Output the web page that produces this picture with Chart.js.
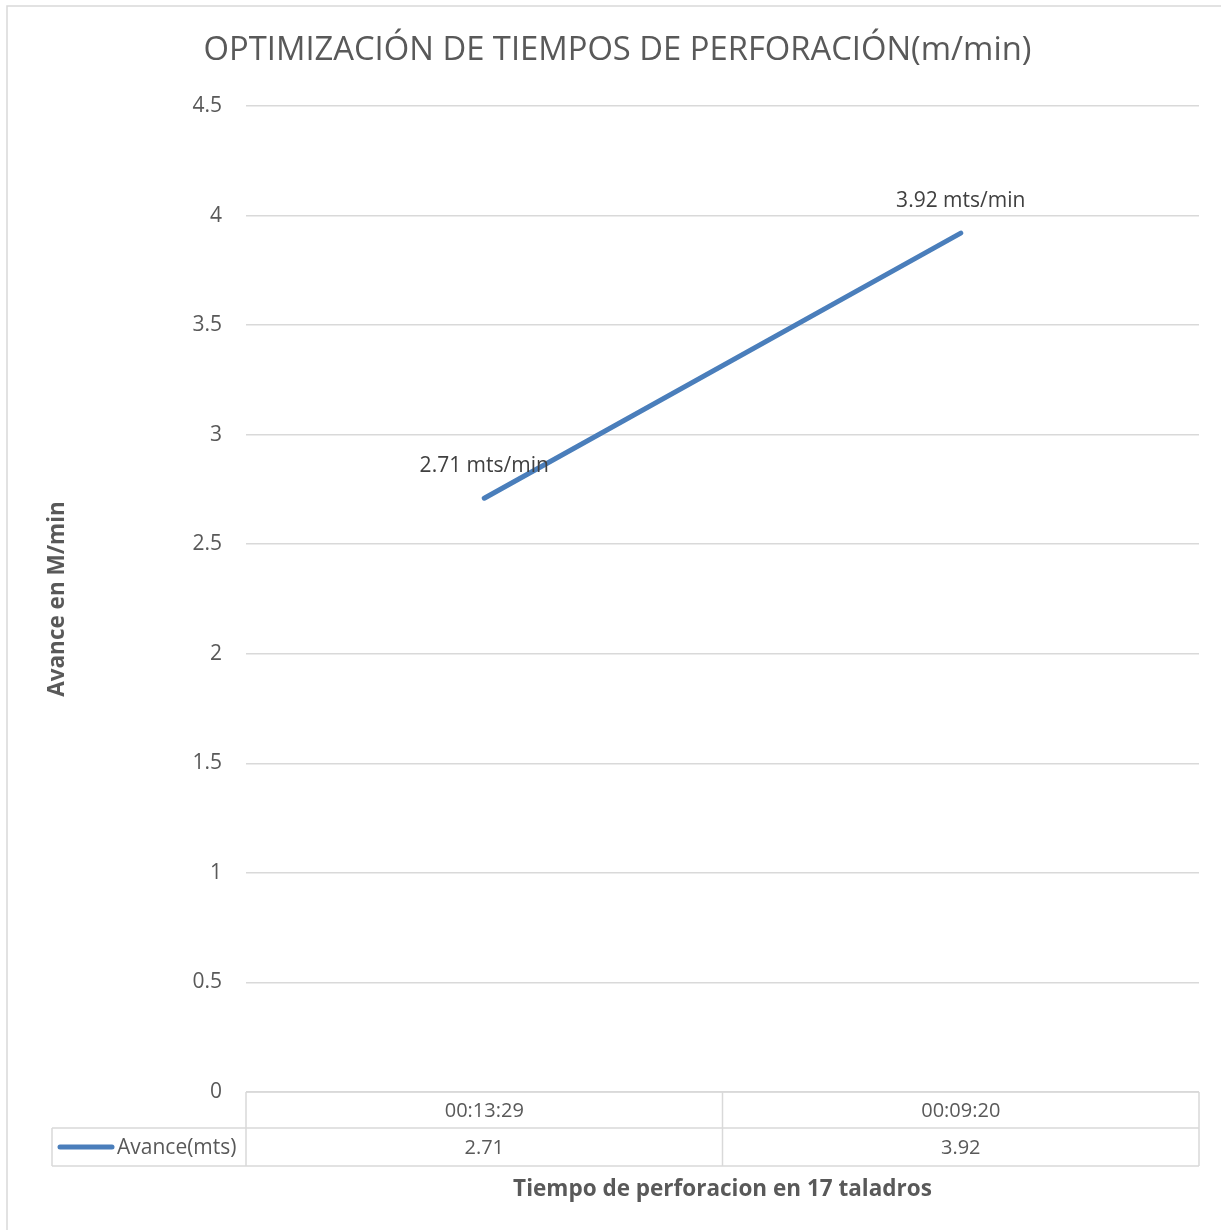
<!DOCTYPE html>
<html>
<head>
<meta charset="utf-8">
<script src="https://cdn.jsdelivr.net/npm/chart.js@4"></script>
<style>
  html, body { margin: 0; padding: 0; background: #ffffff; }
  #wrap { width: 1221px; height: 1230px; position: relative; }
</style>
</head>
<body>
<div id="wrap"><canvas id="chart" width="1221" height="1230"></canvas></div>
<script>
// Drilling times (hh:mm:ss) per round of 17 holes
const categories = ['00:13:29', '00:09:20'];
// Advance rate, metres per minute
const avanceValues = [2.71, 3.92];
const seriesName = 'Avance(mts)';
const valueSuffix = ' mts/min';
const yTicks = [0, 0.5, 1, 1.5, 2, 2.5, 3, 3.5, 4, 4.5];

const FONT = '"Open Sans", "Liberation Sans", sans-serif';
const TEXT = '#595959';
const GRID = '#d9d9d9';
const LINE = '#4a7ebb';

// Frame round the whole chart (left and top edges are visible)
const framePlugin = {
  id: 'frame',
  beforeDraw(chart) {
    const ctx = chart.ctx;
    ctx.save();
    ctx.strokeStyle = GRID;
    ctx.lineWidth = 1.5;
    ctx.strokeRect(7, 6, chart.width + 20, chart.height + 20);
    ctx.restore();
  }
};

// Value labels above each point
const valueLabelPlugin = {
  id: 'valueLabels',
  afterDatasetsDraw(chart) {
    const ctx = chart.ctx;
    const meta = chart.getDatasetMeta(0);
    ctx.save();
    ctx.font = '21px ' + FONT;
    ctx.fillStyle = '#404040';
    ctx.textAlign = 'center';
    ctx.textBaseline = 'middle';
    meta.data.forEach((pt, i) => {
      const v = chart.data.datasets[0].data[i];
      ctx.fillText(v.toFixed(2) + valueSuffix, pt.x, pt.y - 32);
    });
    ctx.restore();
  }
};

// Data table under the plot: category row and value row with legend key
const dataTablePlugin = {
  id: 'dataTable',
  afterDraw(chart) {
    const ctx = chart.ctx;
    const area = chart.chartArea;
    const xs = chart.scales.x;
    const top = area.bottom;
    const mid = top + 36;
    const bot = top + 74;
    const keyLeft = 52;
    ctx.save();
    ctx.strokeStyle = GRID;
    ctx.lineWidth = 1.5;
    ctx.beginPath();
    // horizontal rules
    ctx.moveTo(area.left, top); ctx.lineTo(area.right, top);
    ctx.moveTo(keyLeft, mid); ctx.lineTo(area.right, mid);
    ctx.moveTo(keyLeft, bot); ctx.lineTo(area.right, bot);
    // vertical rules
    ctx.moveTo(keyLeft, mid); ctx.lineTo(keyLeft, bot);
    ctx.moveTo(area.left, top); ctx.lineTo(area.left, bot);
    const n = categories.length;
    const step = (area.right - area.left) / n;
    for (let i = 1; i <= n; i++) {
      const x = area.left + step * i;
      ctx.moveTo(x, top); ctx.lineTo(x, bot);
    }
    ctx.stroke();

    ctx.font = '20px ' + FONT;
    ctx.fillStyle = TEXT;
    ctx.textAlign = 'center';
    ctx.textBaseline = 'middle';
    categories.forEach((c, i) => {
      const x = xs.getPixelForValue(i);
      ctx.fillText(c, x, (top + mid) / 2 + 1);
      ctx.fillText(String(avanceValues[i]), x, (mid + bot) / 2 + 1);
    });

    // legend key
    const ky = (mid + bot) / 2;
    ctx.strokeStyle = LINE;
    ctx.lineWidth = 5;
    ctx.lineCap = 'round';
    ctx.beginPath();
    ctx.moveTo(60, ky); ctx.lineTo(112, ky);
    ctx.stroke();
    ctx.textAlign = 'left';
    ctx.font = '21px ' + FONT;
    ctx.fillText(seriesName, 117, ky + 1);
    ctx.restore();
  }
};

new Chart(document.getElementById('chart'), {
  type: 'line',
  data: {
    labels: categories,
    datasets: [{
      label: seriesName,
      data: avanceValues,
      borderColor: LINE,
      backgroundColor: LINE,
      borderWidth: 5,
      borderCapStyle: 'round',
      pointRadius: 0,
      pointHoverRadius: 0,
      tension: 0
    }]
  },
  options: {
    responsive: false,
    animation: false,
    events: [],
    layout: { padding: { left: 36, right: 22, top: 0, bottom: 0 } },
    plugins: {
      legend: { display: false },
      tooltip: { enabled: false },
      title: {
        display: true,
        text: 'OPTIMIZACIÓN DE TIEMPOS DE PERFORACIÓN(m/min)',
        color: TEXT,
        font: { family: FONT, size: 32.75, weight: 'normal', lineHeight: 1.2 },
        padding: { top: 31, bottom: 35.7 }
      }
    },
    scales: {
      x: {
        type: 'category',
        offset: true,
        grid: { display: false },
        border: { display: false },
        ticks: { display: false },
        title: {
          display: true,
          text: 'Tiempo de perforacion en 17 taladros',
          color: TEXT,
          font: { family: FONT, size: 22.5, weight: 'bold', lineHeight: 1.2 },
          padding: { top: 0, bottom: 27 }
        },
        afterFit(scale) { scale.height = 138; }
      },
      y: {
        min: 0,
        max: 4.5,
        afterBuildTicks(scale) { scale.ticks = yTicks.map(v => ({ value: v })); },
        grid: { color: GRID, lineWidth: 1.5, drawTicks: false },
        border: { display: false },
        ticks: {
          color: TEXT,
          padding: 24,
          font: { family: FONT, size: 21 },
          callback: v => String(v)
        },
        title: {
          display: true,
          text: 'Avance en M/min',
          color: TEXT,
          font: { family: FONT, size: 22.5, weight: 'bold', lineHeight: 1.2 },
          padding: { top: 8, bottom: 0 }
        },
        afterFit(scale) { scale.width = 210; }
      }
    }
  },
  plugins: [framePlugin, valueLabelPlugin, dataTablePlugin]
});
</script>
</body>
</html>
